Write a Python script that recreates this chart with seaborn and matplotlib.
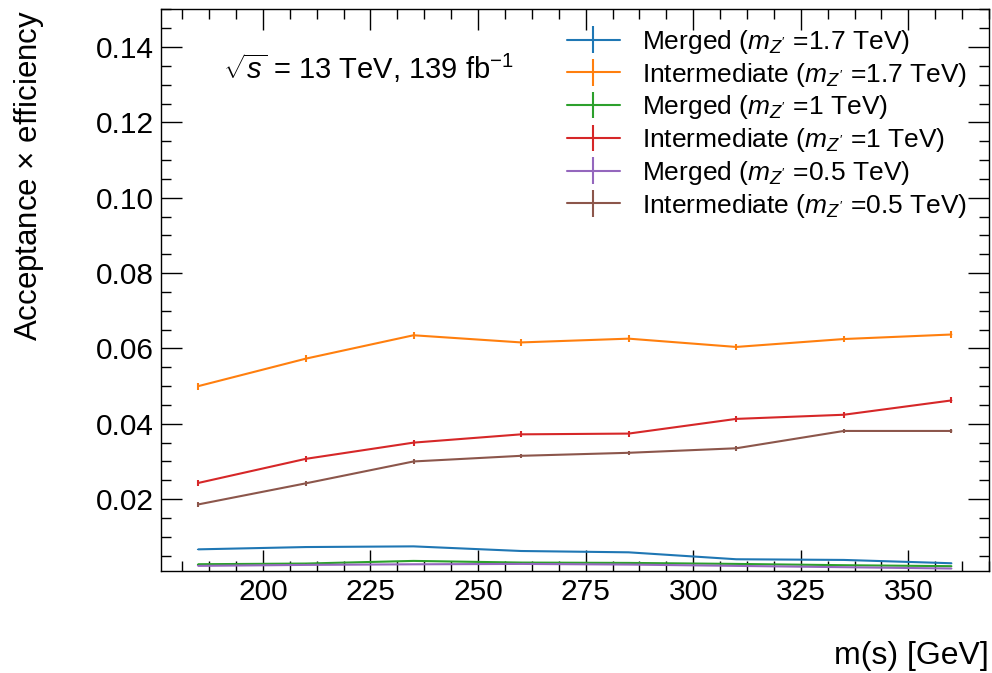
import numpy as np
import pandas as pd
import matplotlib
matplotlib.use("Agg")
import matplotlib.pyplot as plt
import seaborn as sns
from matplotlib.legend_handler import HandlerTuple
from matplotlib.ticker import AutoMinorLocator, MultipleLocator

# Scalar mass points [GeV]
mass = [185, 210, 235, 260, 285, 310, 335, 360]

# Acceptance x efficiency per category and Z' mass
merged_17 = [0.00667, 0.00728, 0.00746, 0.00623, 0.00588, 0.00404, 0.00386, 0.00298]
inter_17 = [0.0500, 0.0573, 0.0635, 0.0616, 0.0626, 0.0604, 0.0625, 0.0637]
merged_10 = [0.00272, 0.00290, 0.00360, 0.00316, 0.00307, 0.00280, 0.00246, 0.00220]
inter_10 = [0.0243, 0.0307, 0.0350, 0.0372, 0.0374, 0.0413, 0.0424, 0.0462]
merged_05 = [0.00228, 0.00254, 0.00270, 0.00280, 0.00263, 0.00228, 0.00193, 0.00158]
inter_05 = [0.0186, 0.0242, 0.0300, 0.0315, 0.0323, 0.0335, 0.0381, 0.0381]

# Statistical uncertainties
err_merged_17 = [0.00020, 0.00020, 0.00020, 0.00020, 0.00020, 0.00015, 0.00015, 0.00015]
err_inter_17 = [0.00090, 0.00090, 0.00090, 0.00090, 0.00090, 0.00090, 0.00090, 0.00090]
err_merged_10 = [0.00015, 0.00015, 0.00015, 0.00015, 0.00015, 0.00015, 0.00015, 0.00015]
err_inter_10 = [0.00080, 0.00080, 0.00080, 0.00080, 0.00080, 0.00080, 0.00080, 0.00080]
err_merged_05 = [0.00015, 0.00015, 0.00015, 0.00015, 0.00015, 0.00015, 0.00015, 0.00015]
err_inter_05 = [0.00060, 0.00060, 0.00060, 0.00060, 0.00060, 0.00060, 0.00060, 0.00060]

labels = [
    r"Merged ($m_{Z'}$ =1.7 TeV)",
    r"Intermediate ($m_{Z'}$ =1.7 TeV)",
    r"Merged ($m_{Z'}$ =1 TeV)",
    r"Intermediate ($m_{Z'}$ =1 TeV)",
    r"Merged ($m_{Z'}$ =0.5 TeV)",
    r"Intermediate ($m_{Z'}$ =0.5 TeV)",
]
values = [merged_17, inter_17, merged_10, inter_10, merged_05, inter_05]
errors = [err_merged_17, err_inter_17, err_merged_10, err_inter_10,
          err_merged_05, err_inter_05]

df = pd.concat(
    [pd.DataFrame({"mass": mass, "eff": v, "err": e, "sample": lab})
     for lab, v, e in zip(labels, values, errors)],
    ignore_index=True,
)

sns.set_theme(style="ticks")
plt.rcParams["font.family"] = ["Liberation Sans", "DejaVu Sans"]
plt.rcParams["mathtext.fontset"] = "custom"
plt.rcParams["mathtext.rm"] = "Liberation Sans"
plt.rcParams["mathtext.it"] = "Liberation Sans:italic"
plt.rcParams["mathtext.bf"] = "Liberation Sans:bold"
for key in ["text.color", "axes.labelcolor", "xtick.color", "ytick.color",
            "axes.edgecolor"]:
    plt.rcParams[key] = "black"

palette = sns.color_palette("tab10", 6)

fig = plt.figure(figsize=(9.92, 6.73), dpi=100)
ax = fig.add_axes([0.162, 0.152, 0.835, 0.834])

sns.lineplot(data=df, x="mass", y="eff", hue="sample", hue_order=labels,
             palette=palette, linewidth=1.5, legend=False, ax=ax,
             errorbar=None, sort=False)

handles = []
for i, lab in enumerate(labels):
    sub = df[df["sample"] == lab]
    cont = ax.errorbar(sub["mass"], sub["eff"], yerr=sub["err"], fmt="none",
                       ecolor=palette[i], elinewidth=1.5, capsize=0)
    handles.append((ax.lines[i], cont))

ax.set_xlim(176.25, 368.75)
ax.set_ylim(0.001, 0.15)
ax.xaxis.set_major_locator(MultipleLocator(25))
ax.xaxis.set_minor_locator(AutoMinorLocator(4))
ax.yaxis.set_major_locator(MultipleLocator(0.02))
ax.yaxis.set_minor_locator(AutoMinorLocator(4))
ax.tick_params(which="both", direction="in", top=True, right=True,
               labelsize=21.5, width=1.0, colors="black")
ax.tick_params(which="major", length=15, pad=5)
ax.tick_params(which="minor", length=7.5)
for s in ax.spines.values():
    s.set_linewidth(1.0)
    s.set_color("black")

ax.set_xlabel("m(s) [GeV]", fontsize=23, loc="right")
ax.set_ylabel(r"Acceptance $\times$ efficiency", fontsize=22.5, loc="top")
ax.xaxis.set_label_coords(1.0, -0.125)
ax.yaxis.set_label_coords(-0.139, 1.0)

ax.text(0.075, 0.895, r"$\sqrt{s}$ = 13 TeV, 139 fb$^{-1}$", transform=ax.transAxes,
        fontsize=21, ha="left", va="center")

ax.legend(handles, labels, handler_map={tuple: HandlerTuple(ndivide=1)},
          loc="upper right", bbox_to_anchor=(0.996, 1.0), frameon=False,
          fontsize=19, handlelength=2.0, labelspacing=0.18, handletextpad=0.85,
          borderaxespad=0.3)

fig.savefig("out.png", dpi=100)
